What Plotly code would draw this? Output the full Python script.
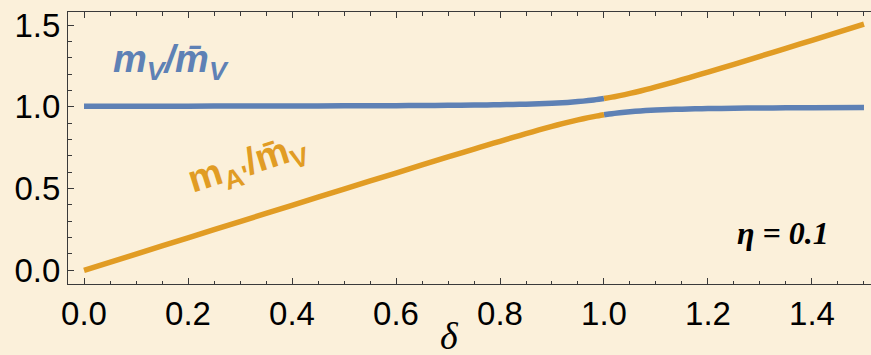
import plotly.graph_objects as go

# delta values (x)
delta_left = [0.0, 0.1, 0.2, 0.3, 0.4, 0.5, 0.6, 0.65, 0.7, 0.75, 0.775, 0.8, 0.825, 0.85, 0.875,
              0.9, 0.92, 0.94, 0.96, 0.98, 0.99, 1.0]
delta_right = [1.0, 1.01, 1.02, 1.04, 1.06, 1.08, 1.1, 1.125, 1.15, 1.175, 1.2, 1.25, 1.3, 1.35,
               1.4, 1.5]

# m_V / mbar_V (blue): upper branch left of 1, lower branch right of 1
mv_left = [1.0025, 1.0028, 1.0031, 1.0036, 1.0041, 1.005, 1.0062, 1.007, 1.0081, 1.0096, 1.0106,
           1.0118, 1.0133, 1.0151, 1.0175, 1.0207, 1.024, 1.0283, 1.0339, 1.041, 1.0453, 1.05]
mv_right = [0.95, 0.9548, 0.959, 0.9662, 0.9717, 0.976, 0.9793, 0.9825, 0.9849, 0.9867, 0.9882,
            0.9904, 0.9919, 0.993, 0.9938, 0.995]

# m_A' / mbar_V (orange): lower branch left of 1, upper branch right of 1
ma_left = [-0.0025, 0.0972, 0.1969, 0.2964, 0.3959, 0.495, 0.5938, 0.643, 0.6919, 0.7404, 0.7644,
           0.7882, 0.8117, 0.8349, 0.8575, 0.8793, 0.896, 0.9117, 0.9262, 0.939, 0.9448, 0.95]
ma_right = [1.05, 1.0553, 1.061, 1.0739, 1.0883, 1.104, 1.1207, 1.1425, 1.1651, 1.1883, 1.2118,
            1.2596, 1.3081, 1.357, 1.4062, 1.505]

x_ticks = [0.0, 0.2, 0.4, 0.6, 0.8, 1.0, 1.2, 1.4]
x_ticklabels = ["0.0", "0.2", "0.4", "0.6", "0.8", "1.0", "1.2", "1.4"]
y_ticks = [0.0, 0.5, 1.0, 1.5]
y_ticklabels = ["0.0", "0.5", "1.0", "1.5"]

BLUE = "#5E81B5"
ORANGE = "#E19C24"
BG = "#FBF0DA"
AX = "#3a3a3a"
LW = 5.5

fig = go.Figure()
for xs, ys, col in [(delta_left, mv_left, BLUE), (delta_right, mv_right, BLUE),
                    (delta_left, ma_left, ORANGE), (delta_right, ma_right, ORANGE)]:
    fig.add_trace(go.Scatter(x=xs, y=ys, mode="lines",
                             line=dict(color=col, width=LW, shape="spline", smoothing=0.6),
                             showlegend=False))

tickfont = dict(family="Liberation Sans, Arial, sans-serif", size=33, color="black")

fig.update_xaxes(range=[-0.0308, 1.5135], tickvals=x_ticks, ticktext=x_ticklabels,
                 ticks="inside", ticklen=6, tickwidth=1, tickcolor=AX,
                 showline=True, linecolor=AX, linewidth=1, mirror="ticks",
                 showgrid=False, zeroline=False, tickfont=tickfont,
                 minor=dict(dtick=0.05, tick0=0, ticks="inside", ticklen=3.5,
                            tickcolor=AX, tickwidth=1, showgrid=False))
fig.update_yaxes(range=[-0.0857, 1.5796], tickvals=y_ticks, ticktext=y_ticklabels,
                 ticks="inside", ticklen=6, tickwidth=1, tickcolor=AX,
                 showline=True, linecolor=AX, linewidth=1, mirror=False,
                 showgrid=False, zeroline=False, tickfont=tickfont,
                 minor=dict(dtick=0.1, tick0=0, ticks="inside", ticklen=3.5,
                            tickcolor=AX, tickwidth=1, showgrid=False))

fig.add_annotation(x=0.167, y=1.273, xref="x", yref="y", showarrow=False,
                   text="<b><i>m<sub>V</sub>/m\u0304<sub>V</sub></i></b>",
                   font=dict(family="Liberation Sans, Arial, sans-serif", size=38, color=BLUE))
fig.add_annotation(x=0.315, y=0.643, xref="x", yref="y", showarrow=False, textangle=-17.5,
                   text="<b>m<sub>A'</sub>/m\u0304<sub>V</sub></b>",
                   font=dict(family="Liberation Sans, Arial, sans-serif", size=38, color=ORANGE))
fig.add_annotation(x=1.345, y=0.225, xref="x", yref="y", showarrow=False,
                   text="<b><i>\u03b7 = 0.1</i></b>",
                   font=dict(family="Liberation Serif, Times New Roman, serif", size=32, color="black"))
fig.add_annotation(x=0.702, y=-0.108, xref="x", yref="paper", showarrow=False, yanchor="top",
                   text="<i>\u03b4</i>",
                   font=dict(family="Liberation Serif, Times New Roman, serif", size=38, color="black"))

fig.update_layout(width=871, height=355, margin=dict(l=68, r=0, t=12, b=71),
                  paper_bgcolor=BG, plot_bgcolor=BG)

fig.write_html("out.html")
